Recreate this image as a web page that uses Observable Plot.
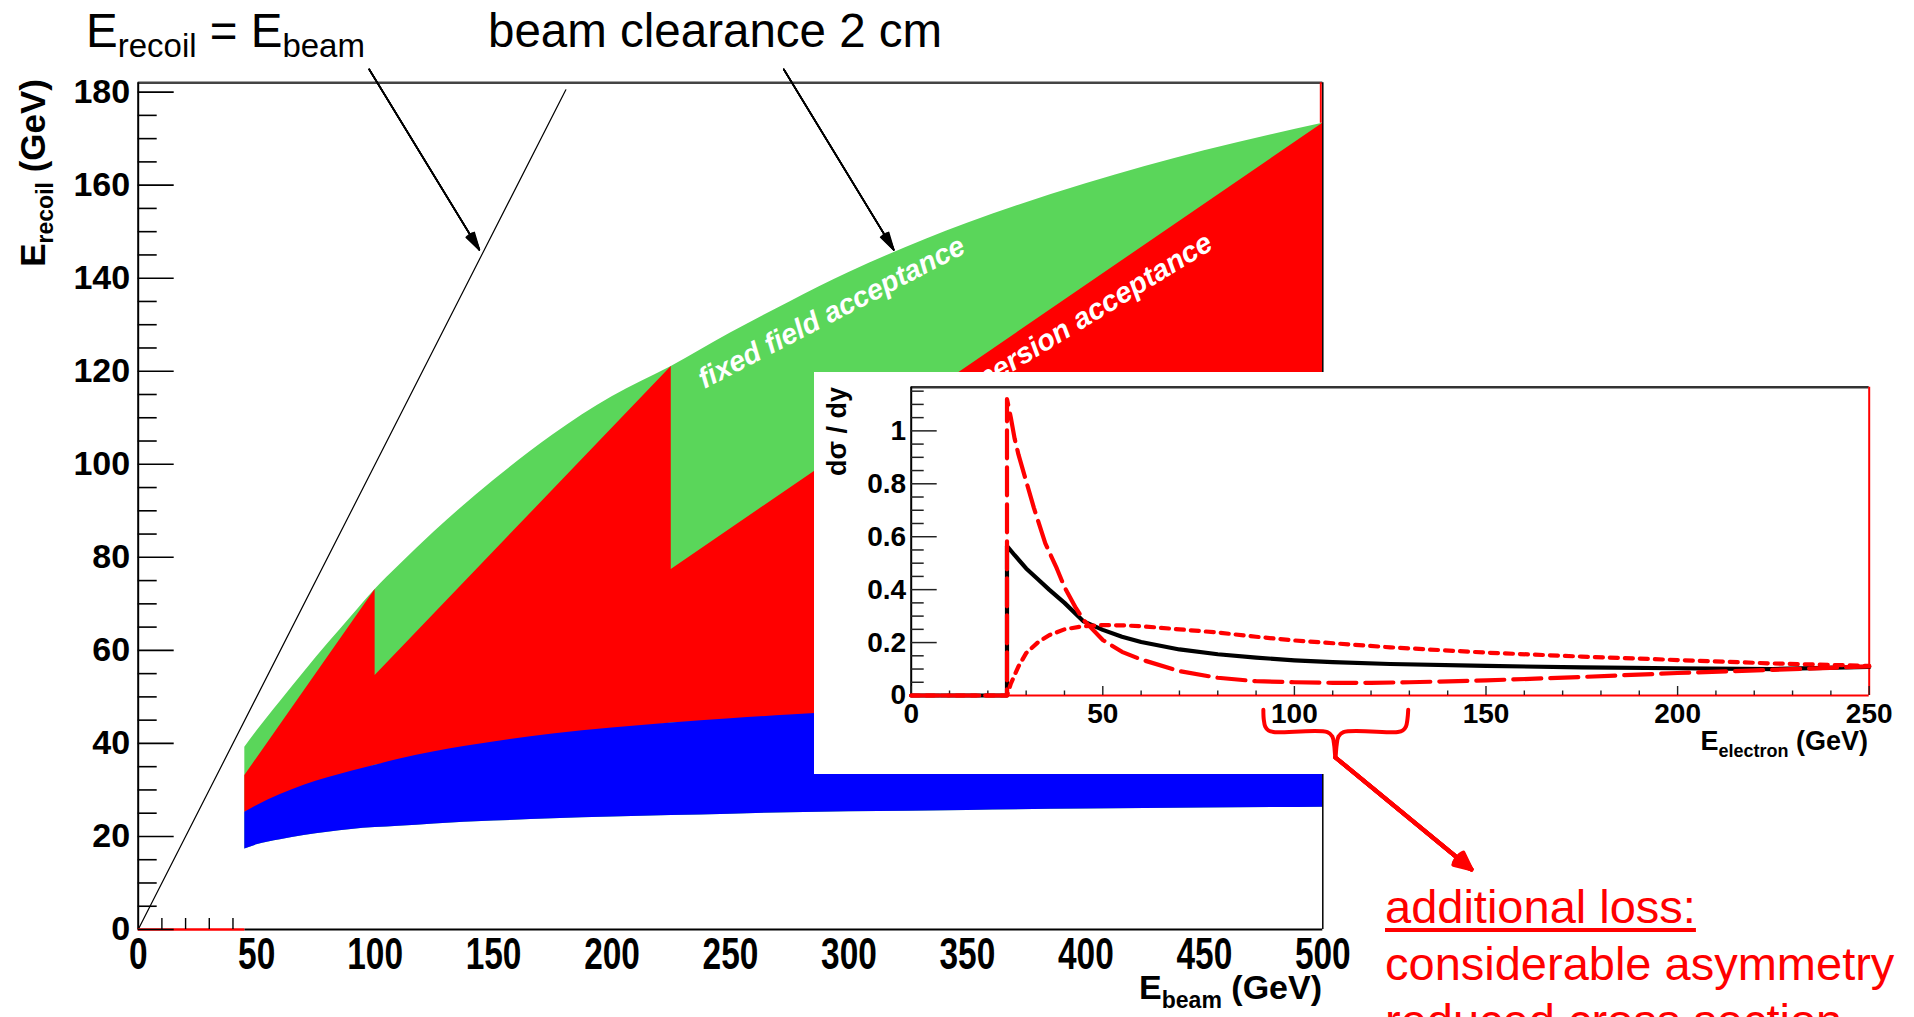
<!DOCTYPE html>
<html><head><meta charset="utf-8">
<script src="https://cdn.jsdelivr.net/npm/d3@7"></script>
<script src="https://cdn.jsdelivr.net/npm/@observablehq/plot@0.6"></script>
<style>
body{margin:0;background:#fff;}
#page{position:relative;width:1914px;height:1017px;overflow:hidden;background:#fff;}
</style></head><body><div id="page"></div>
<script>
// ---------------- DATA (main plot: recoil energy acceptance vs beam energy) ----------------
const curveE     = [45, 50, 60, 70, 80, 90, 100, 110, 125, 150, 175, 200, 225, 250, 275, 300, 350, 400, 450, 500];
const greenTop   = [39.2, 42.6, 49.0, 55.3, 61.4, 67.3, 73.1, 78.2, 85.5, 96.5, 106.3, 114.5, 121.0, 128.2, 134.9, 141.2, 151.8, 160.3, 167.4, 173.3];
const blueTop    = [25.2, 26.6, 29.0, 31.0, 32.6, 34.0, 35.3, 36.6, 38.2, 40.3, 42.0, 43.3, 44.4, 45.3, 46.1, 46.8, 47.9, 48.8, 49.5, 50.0];
const blueBottom = [17.3, 18.2, 19.3, 20.2, 20.9, 21.5, 21.9, 22.2, 22.7, 23.3, 23.8, 24.2, 24.5, 24.8, 25.1, 25.3, 25.6, 25.9, 26.1, 26.3];
// dispersion acceptance (sawtooth): upper edge and its lower edge (inside the blue band)
const sawE    = [45, 100, 100, 225, 225, 500];
const sawTop  = [33.1, 73.1, 54.6, 121.0, 77.4, 173.3];
const sawBase = [25.2, 35.3, 35.3, 44.4, 44.4, 50.0];
const diagBeam   = [0, 180.5];
const diagRecoil = [0, 180.5];
const redBaseBeam = [0, 45];
const mainXTicks = [0, 50, 100, 150, 200, 250, 300, 350, 400, 450, 500];
const mainYTicks = [0, 20, 40, 60, 80, 100, 120, 140, 160, 180];
const mainXMinorShown = [10, 20, 30, 40];
// annotation arrows (data units of the main plot)
const annX1 = [97.5, 272.5], annY1 = [184.9, 184.9];
const annX2 = [144.0, 318.9], annY2 = [146.1, 146.1];

// ---------------- DATA (inset: dσ/dy vs electron energy) ----------------
const solidE = [0, 25, 25, 27, 30, 33, 36, 40, 45, 50, 55, 60, 70, 80, 90, 100, 110, 125, 150, 175, 200, 225, 250];
const solidV = [0, 0, 0.565, 0.53, 0.48, 0.44, 0.40, 0.35, 0.28, 0.248, 0.222, 0.202, 0.174, 0.156, 0.143, 0.133, 0.126, 0.119, 0.112, 0.106, 0.103, 0.1, 0.108];
const dashE  = [0, 25, 25, 26, 27, 28, 30, 32, 35, 38, 40, 43, 45, 50, 55, 60, 70, 80, 90, 100, 110, 120, 130, 150, 175, 200, 225, 250];
const dashV  = [0, 0, 1.12, 1.05, 0.97, 0.91, 0.81, 0.71, 0.575, 0.48, 0.41, 0.33, 0.285, 0.21, 0.165, 0.136, 0.092, 0.067, 0.054, 0.05, 0.048, 0.048, 0.05, 0.057, 0.07, 0.085, 0.097, 0.11];
const dotE   = [0, 25, 26, 28, 30, 33, 36, 40, 45, 50, 55, 60, 70, 80, 90, 100, 125, 150, 175, 200, 225, 250];
const dotV   = [0, 0, 0.045, 0.11, 0.16, 0.2, 0.228, 0.25, 0.262, 0.266, 0.265, 0.262, 0.25, 0.238, 0.222, 0.208, 0.182, 0.162, 0.147, 0.134, 0.121, 0.112];
const insetXTicks = [0, 50, 100, 150, 200, 250];
const insetYTicks = [0, 0.2, 0.4, 0.6, 0.8, 1];
const braceE = [91.9, 92.0, 92.4, 93.2, 94.5, 108.6, 109.9, 110.4, 110.7, 111.0, 111.5, 112.8, 127.0, 128.3, 129.1, 129.5, 129.7];
const braceV = [-0.054, -0.09, -0.118, -0.132, -0.138, -0.138, -0.155, -0.19, -0.234, -0.19, -0.155, -0.138, -0.138, -0.132, -0.118, -0.09, -0.054];
const lossArrowE = [110.7, 146.2], lossArrowV = [-0.234, -0.657];

// ---------------- STYLE ----------------
const FONT = '"Liberation Sans", Arial, Helvetica, sans-serif';
const GREEN = "#5ad65a", RED = "#ff0000", BLUE = "#0000ff";
const W = 1914, H = 1017;
const ML = 137.7, MR = W - 1322.3, MT = 82.3, MB = H - 929;
const FW = W - ML - MR, FH = H - MT - MB;
const page = document.getElementById("page");

const yMinor = d3.range(0, 182, 5).filter(v => v % 20 !== 0);
const fanAngles = [6, 12, 18, 24, 30];

const main = Plot.plot({
  width: W, height: H,
  marginLeft: ML, marginRight: MR, marginTop: MT, marginBottom: MB,
  x: {domain: [0, 500]},
  y: {domain: [0, 182]},
  style: {fontFamily: FONT, background: "transparent", overflow: "visible", fontWeight: "bold"},
  marks: [
    Plot.areaY(curveE, {x: curveE, y1: blueBottom, y2: greenTop, fill: GREEN, curve: "monotone-x"}),
    Plot.areaY(sawE, {x: sawE, y1: sawBase, y2: sawTop, fill: RED, curve: "linear"}),
    Plot.areaY(curveE, {x: curveE, y1: blueBottom, y2: blueTop, fill: BLUE, curve: "monotone-x"}),
    Plot.line(diagBeam, {x: diagBeam, y: diagRecoil, stroke: "black", strokeWidth: 1.2}),
    // frame
    Plot.ruleY([182], {stroke: "#444", strokeWidth: 2.5}),
    Plot.ruleX([500], {stroke: "black", strokeWidth: 1.5}),
    Plot.ruleX([500], {y1: greenTop[greenTop.length - 1], y2: 182, stroke: RED, strokeWidth: 2, dx: -2}),
    Plot.ruleX([0], {stroke: "black", strokeWidth: 2}),
    Plot.ruleY([0], {x1: redBaseBeam[1], x2: 500, stroke: "black", strokeWidth: 2}),
    Plot.ruleY([0], {x1: redBaseBeam[0], x2: redBaseBeam[1], stroke: RED, strokeWidth: 2.5}),
    // ticks pointing inside
    Plot.tickY(mainYTicks, {y: d => d, insetRight: FW - 36, stroke: "black", strokeWidth: 1.6}),
    Plot.tickY(yMinor, {y: d => d, insetRight: FW - 19, stroke: "black", strokeWidth: 1.6}),
    Plot.tickX(mainXMinorShown, {x: d => d, insetTop: FH - 11, stroke: "black", strokeWidth: 1.4}),
    // tick labels
    Plot.axisY(mainYTicks, {tickSize: 0, tickPadding: 8, fontSize: 34, fontWeight: "bold", label: null}),
    Plot.axisX(mainXTicks, {tickSize: 0, tickPadding: 8, fontSize: 44, fontWeight: "bold", label: null}),
    // region labels
    Plot.text(["fixed field acceptance"], {x: () => 239, y: () => 116.2, text: d => d, rotate: -27.5,
      textAnchor: "start", lineAnchor: "bottom", fill: "white", fontSize: 28.5, fontWeight: "bold", fontStyle: "italic"}),
    Plot.text(["dispersion acceptance"], {x: () => 454.3, y: () => 146.5, text: d => d, rotate: -31.5,
      textAnchor: "end", lineAnchor: "bottom", fill: "white", fontSize: 29, fontWeight: "bold", fontStyle: "italic"}),
    // annotation arrows (fan of heads gives a filled look)
    ...fanAngles.map(a => Plot.arrow(annX1, {x1: annX1, y1: annY1, x2: annX2, y2: annY2,
      stroke: "black", strokeWidth: 1.6, headAngle: a, headLength: 17}))
  ]
});
main.style.position = "absolute"; main.style.left = "0px"; main.style.top = "0px";
page.appendChild(main);

// condensed x tick labels on main plot (keep Plot's translate, add a horizontal squeeze)
main.querySelectorAll('g[aria-label="x-axis tick label"] text').forEach(t => {
  const tr = t.getAttribute("transform") || "";
  t.setAttribute("transform", tr + " scale(0.76,1)");
});
main.querySelectorAll('g[aria-label$="tick label"]').forEach(g => g.setAttribute("font-weight", "bold"));

// ---------------- INSET ----------------
const IX = 814, IY = 372, IW = 1100, IH = 402;
const IML = 910.7 - IX, IMR = IW - (1868.7 - IX), IMT = 386.7 - IY, IMB = IH - (695 - IY);
const IFW = IW - IML - IMR, IFH = IH - IMT - IMB;
const insetDiv = document.createElement("div");
Object.assign(insetDiv.style, {position: "absolute", left: IX + "px", top: IY + "px", width: IW + "px", height: IH + "px", background: "#fff"});
page.appendChild(insetDiv);

const ixMinor = d3.range(0, 251, 10).filter(v => v % 50 !== 0);
const iyMinor = d3.range(0, 1.16, 0.05).map(v => +v.toFixed(2)).filter(v => Math.round(v * 100) % 20 !== 0);

const inset = Plot.plot({
  width: IW, height: IH,
  marginLeft: IML, marginRight: IMR, marginTop: IMT, marginBottom: IMB,
  x: {domain: [0, 250]},
  y: {domain: [0, 1.165]},
  style: {fontFamily: FONT, background: "transparent", overflow: "visible", fontWeight: "bold"},
  marks: [
    Plot.ruleY([1.165], {stroke: "#333", strokeWidth: 2.5}),
    Plot.ruleX([0], {stroke: "black", strokeWidth: 2}),
    Plot.ruleX([250], {stroke: RED, strokeWidth: 2}),
    Plot.ruleY([0], {stroke: RED, strokeWidth: 2}),
    Plot.tickX(insetXTicks, {x: d => d, insetTop: IFH - 9, stroke: "#222", strokeWidth: 1.4}),
    Plot.tickX(ixMinor, {x: d => d, insetTop: IFH - 4.5, stroke: "#222", strokeWidth: 1.4}),
    Plot.tickY(insetYTicks, {y: d => d, insetRight: IFW - 26, stroke: "#222", strokeWidth: 1.5}),
    Plot.tickY(iyMinor, {y: d => d, insetRight: IFW - 13, stroke: "#222", strokeWidth: 1.5}),
    Plot.line(solidE, {x: solidE, y: solidV, stroke: "black", strokeWidth: 4.2, curve: "linear"}),
    Plot.line(dotE, {x: dotE, y: dotV, stroke: RED, strokeWidth: 4.2, strokeDasharray: "8,7", curve: "linear"}),
    Plot.line(dashE, {x: dashE, y: dashV, stroke: RED, strokeWidth: 4.2, strokeDasharray: "28,9", curve: "linear"}),
    Plot.axisX(insetXTicks, {tickSize: 0, tickPadding: 8, fontSize: 28, fontWeight: "bold", label: null}),
    Plot.axisY(insetYTicks, {tickSize: 0, tickPadding: 5, fontSize: 28, fontWeight: "bold", label: null,
      tickFormat: d => String(+d.toFixed(1))}),
    // brace + arrow pointing to the caption
    Plot.line(braceE, {x: braceE, y: braceV, stroke: RED, strokeWidth: 4, curve: "catmull-rom", strokeLinejoin: "round"}),
    ...[10, 20, 30, 40, 50].map(a => Plot.arrow([0], {x1: () => lossArrowE[0], y1: () => lossArrowV[0], x2: () => lossArrowE[1], y2: () => lossArrowV[1],
      stroke: RED, strokeWidth: 4, headAngle: a, headLength: 7}))
  ]
});
insetDiv.appendChild(inset);
inset.querySelectorAll('g[aria-label$="tick label"]').forEach(g => g.setAttribute("font-weight", "bold"));

// ---------------- TEXT OVERLAY ----------------
const ov = d3.select(page).append("svg")
  .attr("width", W).attr("height", H)
  .style("position", "absolute").style("left", "0px").style("top", "0px")
  .style("pointer-events", "none").attr("font-family", FONT);

function rich(parent, parts, base, sub, shift) {
  const t = parent.append("text").attr("font-size", base);
  let cur = 0;
  for (const [s, isSub] of parts) {
    const target = isSub ? shift : 0;
    t.append("tspan").attr("font-size", isSub ? sub : base).attr("dy", target - cur).text(s);
    cur = target;
  }
  return t;
}

// top annotation labels
rich(ov.append("g").attr("transform", "translate(86,47)"), [["E"], ["recoil", 1], [" = E"], ["beam", 1]], 47.5, 33, 10);
ov.append("text").attr("x", 488).attr("y", 47).attr("font-size", 47.5).text("beam clearance 2 cm");

// main axis titles
rich(ov.append("g").attr("transform", "translate(1322,999)"), [["E"], ["beam", 1], [" (GeV)"]], 34, 23, 9)
  .attr("text-anchor", "end").attr("font-weight", "bold");
rich(ov.append("g").attr("transform", "translate(45,79) rotate(-90)"), [["E"], ["recoil", 1], [" (GeV)"]], 35, 23, 8)
  .attr("text-anchor", "end").attr("font-weight", "bold");

// inset axis titles
rich(ov.append("g").attr("transform", "translate(1868,750)"), [["E"], ["electron", 1], [" (GeV)"]], 27, 18, 7)
  .attr("text-anchor", "end").attr("font-weight", "bold");
ov.append("g").attr("transform", "translate(846,387) rotate(-90)")
  .append("text").attr("text-anchor", "end").attr("font-size", 27).attr("font-weight", "bold").text("dσ / dy");

// red caption
const cap = ov.append("g").attr("fill", RED).attr("font-size", 47);
const l1 = cap.append("text").attr("x", 1385).attr("y", 923).text("additional loss:");
const len1 = l1.node().getComputedTextLength();
ov.append("line").attr("x1", 1385).attr("x2", 1385 + len1).attr("y1", 930).attr("y2", 930)
  .attr("stroke", RED).attr("stroke-width", 4);
cap.append("text").attr("x", 1385).attr("y", 980).text("considerable asymmetry");
cap.append("text").attr("x", 1385).attr("y", 1037).text("reduced cross section");
</script></body></html>
